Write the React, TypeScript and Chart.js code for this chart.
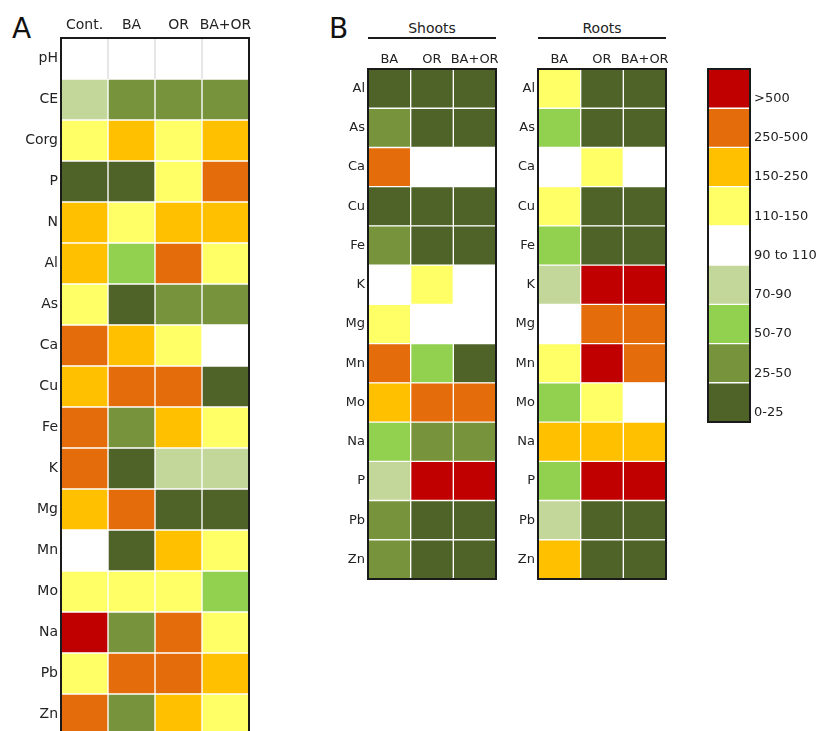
import React, { useEffect, useRef } from "react";
import { Chart, registerables } from "chart.js";

Chart.register(...registerables);

// Classes (relative value, % of reference), bottom to top
const LEGEND_LABELS = ["0-25", "25-50", "50-70", "70-90", "90 to 110", "110-150", "150-250", "250-500", ">500"];
const CLASS_COLORS = ["#4F6228", "#77933C", "#92D050", "#C4D79B", "#FFFFFF", "#FFFF66", "#FFC000", "#E46C0A", "#C00000"];

// Panel A (class index into LEGEND_LABELS)
const A_ROWS = ["pH", "CE", "Corg", "P", "N", "Al", "As", "Ca", "Cu", "Fe", "K", "Mg", "Mn", "Mo", "Na", "Pb", "Zn"];
const A_COLS = ["Cont.", "BA", "OR", "BA+OR"];
const A_CONT = [4, 3, 5, 0, 6, 6, 5, 7, 6, 7, 7, 6, 4, 5, 8, 5, 7];
const A_BA = [4, 1, 6, 0, 5, 2, 0, 6, 7, 1, 0, 7, 0, 5, 1, 7, 1];
const A_OR = [4, 1, 5, 5, 6, 7, 1, 5, 7, 6, 3, 0, 6, 5, 7, 7, 6];
const A_BAOR = [4, 1, 6, 7, 6, 5, 1, 4, 0, 5, 3, 0, 5, 2, 5, 6, 5];

// Panel B
const B_ROWS = ["Al", "As", "Ca", "Cu", "Fe", "K", "Mg", "Mn", "Mo", "Na", "P", "Pb", "Zn"];
const B_COLS = ["BA", "OR", "BA+OR"];
const SHOOTS_BA = [0, 1, 7, 0, 1, 4, 5, 7, 6, 2, 3, 1, 1];
const SHOOTS_OR = [0, 0, 4, 0, 0, 5, 4, 2, 7, 1, 8, 0, 0];
const SHOOTS_BAOR = [0, 0, 4, 0, 0, 4, 4, 0, 7, 1, 8, 0, 0];
const ROOTS_BA = [5, 2, 4, 5, 2, 3, 4, 5, 2, 6, 2, 3, 6];
const ROOTS_OR = [0, 0, 5, 0, 0, 8, 7, 8, 5, 6, 8, 0, 0];
const ROOTS_BAOR = [0, 0, 4, 0, 0, 8, 7, 7, 4, 6, 8, 0, 0];

const LEGEND_ROWS = [...LEGEND_LABELS].reverse();
const LEGEND_VALUES = LEGEND_LABELS.map((_, i) => i).reverse();

const FONT = "'DejaVu Sans', sans-serif";
const TEXT = "#222";

const framePlugin = {
  id: "frame",
  afterDatasetsDraw(chart: any) {
    const { ctx, chartArea: a } = chart;
    ctx.save();
    ctx.strokeStyle = "#1a1a1a";
    ctx.lineWidth = 2;
    ctx.strokeRect(a.left, a.top, a.right - a.left, a.bottom - a.top);
    ctx.restore();
  },
};

type HeatOpts = {
  rows: string[];
  cols: string[];
  values: number[][];
  axisW: number;
  headerH: number;
  fontSize: number;
  headerPad: number;
  grayRow?: string;
  legend?: boolean;
};

function noPad(s: any) {
  s.paddingTop = 0;
  s.paddingBottom = 0;
  s.paddingLeft = 0;
  s.paddingRight = 0;
}

function makeConfig(o: HeatOpts): any {
  const datasets = o.values.map((vals, c) => ({
    label: o.cols[c],
    data: vals.map(() => [c, c + 1]),
    backgroundColor: vals.map((v) => CLASS_COLORS[v]),
    borderColor: o.rows.map((r) => (r === o.grayRow ? "#dcdcdc" : "#ffffff")),
    borderWidth: o.rows.map((r) =>
      r === o.grayRow ? { top: 0, bottom: 0, left: 1, right: 1 } : 1
    ),
    borderSkipped: false,
  }));
  const scales: any = {
    x: { type: "linear", min: 0, max: o.cols.length, display: false },
    y: {
      type: "category",
      position: o.legend ? "right" : "left",
      grid: { display: false, drawTicks: false },
      border: { display: false },
      ticks: {
        color: TEXT,
        font: { family: FONT, size: o.fontSize },
        padding: o.legend ? 4 : 3,
        labelOffset: o.legend ? 10 : 0,
        autoSkip: false,
      },
      afterFit: (s: any) => {
        s.width = o.axisW;
        noPad(s);
      },
    },
  };
  if (!o.legend) {
    scales.top = {
      type: "category",
      labels: o.cols,
      position: "top",
      offset: true,
      grid: { display: false, drawTicks: false },
      border: { display: false },
      ticks: {
        color: TEXT,
        font: { family: FONT, size: o.fontSize },
        padding: o.headerPad,
        maxRotation: 0,
        minRotation: 0,
        autoSkip: false,
      },
      afterFit: (s: any) => {
        s.height = o.headerH;
        noPad(s);
      },
    };
  }
  return {
    type: "bar",
    data: { labels: o.rows, datasets },
    options: {
      indexAxis: "y",
      responsive: false,
      animation: false,
      events: [],
      layout: {
        padding: o.legend
          ? { left: 8, top: 69, right: 0, bottom: 2 }
          : { left: 0, top: 0, right: 2, bottom: 2 },
      },
      datasets: { bar: { grouped: false, barPercentage: 1, categoryPercentage: 1 } },
      plugins: { legend: { display: false }, tooltip: { enabled: false } },
      scales,
    },
    plugins: [framePlugin],
  };
}

function HeatCanvas(props: { left: number; top: number; width: number; height: number; opts: HeatOpts }) {
  const ref = useRef<HTMLCanvasElement | null>(null);
  useEffect(() => {
    const chart = new Chart(ref.current as HTMLCanvasElement, makeConfig(props.opts));
    return () => chart.destroy();
  }, []);
  return (
    <canvas
      ref={ref}
      width={props.width}
      height={props.height}
      style={{ position: "absolute", left: props.left, top: props.top, width: props.width, height: props.height }}
    />
  );
}

const label = (text: string, style: any) => (
  <div
    style={{
      position: "absolute",
      fontFamily: FONT,
      color: TEXT,
      whiteSpace: "nowrap",
      ...style,
    }}
  >
    {text}
  </div>
);

export default function App() {
  return (
    <div
      style={{
        position: "fixed",
        left: 0,
        top: 0,
        width: 819,
        height: 731,
        overflow: "hidden",
        background: "#fff",
      }}
    >
      {label("A", { left: 12, top: 15, fontSize: 28, lineHeight: "28px", color: "#111" })}
      {label("B", { left: 329, top: 15, fontSize: 28, lineHeight: "28px", color: "#111" })}
      {label("Shoots", { left: 368, top: 21, width: 128, textAlign: "center", fontSize: 14, lineHeight: "14px" })}
      <div style={{ position: "absolute", left: 368, top: 37, width: 128, height: 1.5, background: "#1a1a1a" }} />
      {label("Roots", { left: 538, top: 21, width: 128, textAlign: "center", fontSize: 14, lineHeight: "14px" })}
      <div style={{ position: "absolute", left: 538, top: 37, width: 128, height: 1.5, background: "#1a1a1a" }} />

      <HeatCanvas
        left={0}
        top={0}
        width={251}
        height={737}
        opts={{
          rows: A_ROWS,
          cols: A_COLS,
          values: [A_CONT, A_BA, A_OR, A_BAOR],
          axisW: 61,
          headerH: 38,
          fontSize: 14,
          headerPad: 4,
          grayRow: "pH",
        }}
      />
      <HeatCanvas
        left={328}
        top={0}
        width={170}
        height={581}
        opts={{
          rows: B_ROWS,
          cols: B_COLS,
          values: [SHOOTS_BA, SHOOTS_OR, SHOOTS_BAOR],
          axisW: 40,
          headerH: 69,
          fontSize: 13,
          headerPad: 2,
        }}
      />
      <HeatCanvas
        left={498}
        top={0}
        width={170}
        height={581}
        opts={{
          rows: B_ROWS,
          cols: B_COLS,
          values: [ROOTS_BA, ROOTS_OR, ROOTS_BAOR],
          axisW: 40,
          headerH: 69,
          fontSize: 13,
          headerPad: 2,
        }}
      />
      <HeatCanvas
        left={700}
        top={0}
        width={119}
        height={424}
        opts={{
          rows: LEGEND_ROWS,
          cols: ["class"],
          values: [LEGEND_VALUES],
          axisW: 69,
          headerH: 0,
          fontSize: 13,
          headerPad: 0,
          legend: true,
        }}
      />
    </div>
  );
}
